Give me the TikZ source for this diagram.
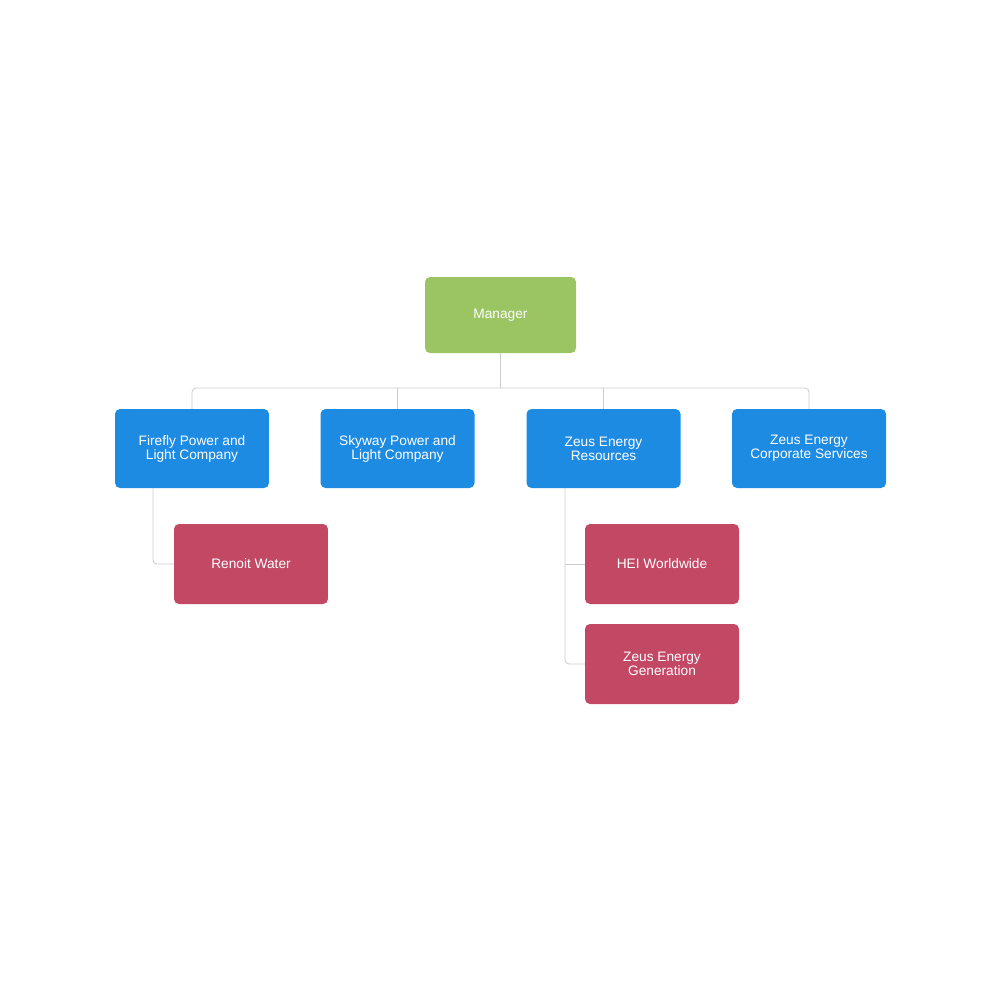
\documentclass[tikz,border=0pt]{standalone}
\usepackage{fontspec}
\setmainfont{Liberation Sans}
\definecolor{mgreen}{HTML}{9BC462}
\definecolor{mblue}{HTML}{1E8BE3}
\definecolor{mred}{HTML}{C34864}
\definecolor{lgrey}{HTML}{CCCCCC}
\tikzset{
  unit/.style={rounded corners=0.25cm,text=white,align=center,inner sep=0pt,
    font=\fontsize{19.5}{19.9}\selectfont},
  head/.style={unit,fill=mgreen,minimum width=7.55cm,minimum height=3.8cm},
  comp/.style={unit,fill=mblue,minimum width=7.7cm,minimum height=3.95cm},
  sub/.style={unit,fill=mred,minimum width=7.7cm,minimum height=4cm},
  link/.style={draw=lgrey,line width=1.2pt,rounded corners=0.2cm}
}
\begin{document}
\begin{tikzpicture}[x=0.05cm,y=-0.05cm]
\useasboundingbox (0,0) rectangle (1000,1000);
\node[head] (man) at (500.5,315) {Manager};
\node[comp] (fire) at (192,448.5) {Firefly Power and\\ Light Company};
\node[comp] (sky) at (397.5,448.5) {Skyway Power and\\ Light Company};
\node[comp] (zer) at (603.5,448.5) {Zeus Energy\\ Resources};
\node[comp] (zcs) at (809,448.5) {Zeus Energy\\ Corporate Services};
\node[sub] (ren) at (251,564) {Renoit Water};
\node[sub] (hei) at (662,564) {HEI Worldwide};
\node[sub] (zeg) at (662,664) {Zeus Energy\\ Generation};
\coordinate (bus) at (500.5,388);
% top level
\draw[link] (man.south) -- (bus);
\draw[link] (fire.north) |- (bus) -| (zcs.north);
\draw[link] (sky.north) -- (sky.north |- bus);
\draw[link] (zer.north) -- (zer.north |- bus);
% second level
\draw[link] ([xshift=-1.95cm]fire.south) |- (ren.west);
\draw[link] ([xshift=-1.925cm]zer.south) |- (zeg.west);
\draw[link] ([xshift=-1.925cm]zer.south |- hei.west) -- (hei.west);
\end{tikzpicture}
\end{document}
